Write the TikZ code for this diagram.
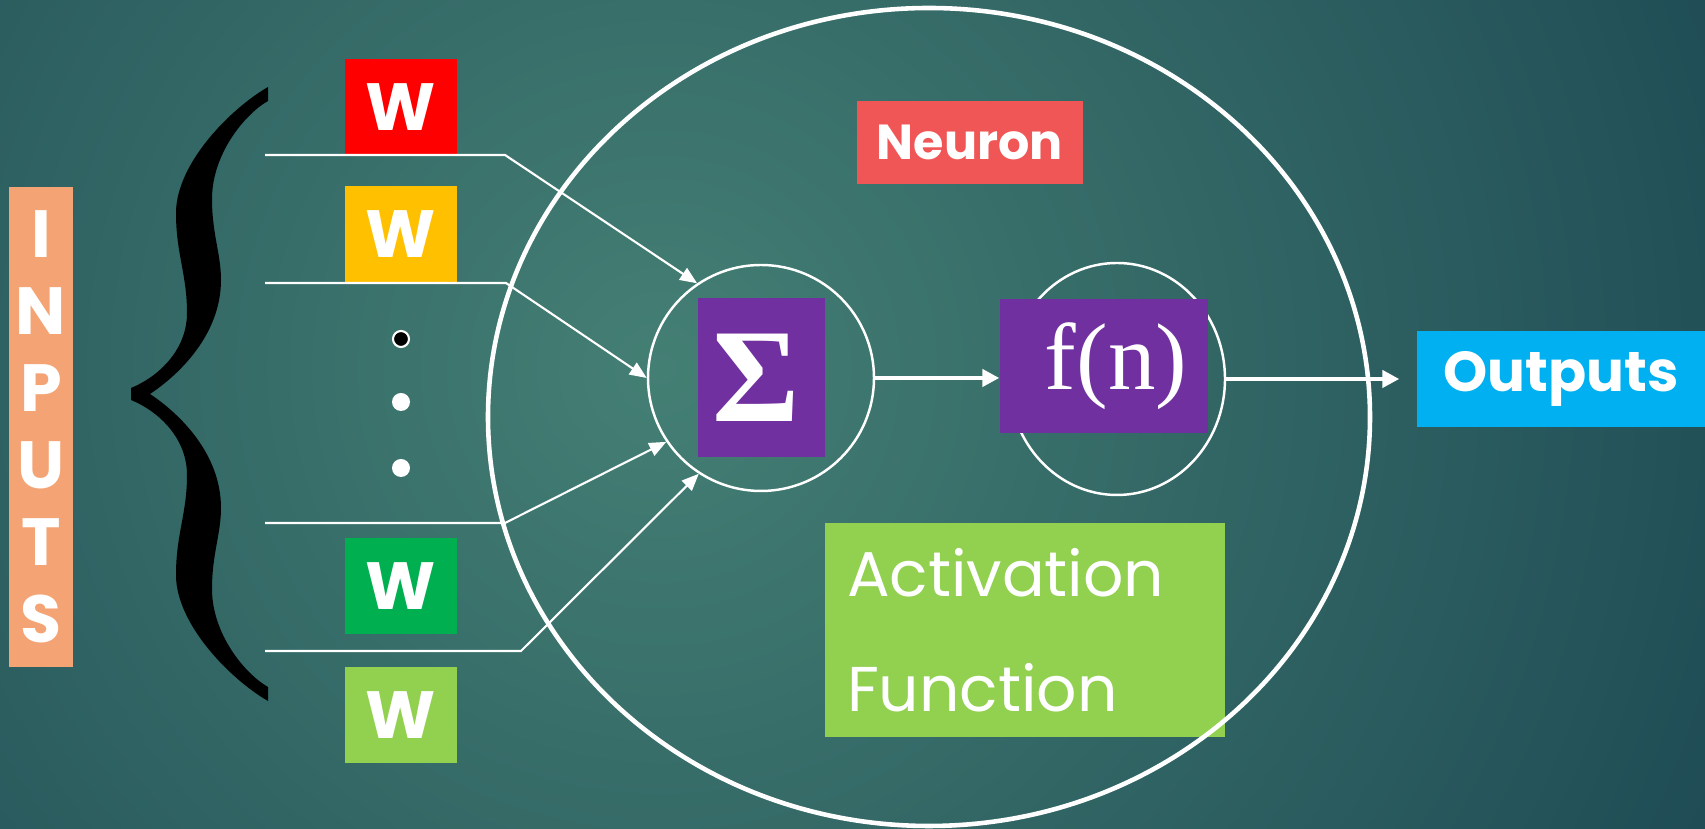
\documentclass[tikz,border=0pt]{standalone}
\usepackage{fontspec}
\setmainfont{Poppins}
\newfontfamily\timesfont{Liberation Serif}
\usetikzlibrary{positioning, arrows.meta, shapes.geometric, calc}
\definecolor{BgInner}{HTML}{447F74}
\definecolor{BgOuter}{HTML}{123A4A}
\definecolor{Salmon}{HTML}{F4A474}
\definecolor{WRed}{HTML}{FF0000}
\definecolor{WAmber}{HTML}{FFC000}
\definecolor{WGreen}{HTML}{00B050}
\definecolor{WLime}{HTML}{92D050}
\definecolor{Plum}{HTML}{7030A0}
\definecolor{Coral}{HTML}{F05656}
\definecolor{Sky}{HTML}{00B0F0}

\begin{document}
\begin{tikzpicture}[
    flatbox/.style={fill=#1, text=white, inner sep=0pt},
    wbox/.style={flatbox=#1, minimum width=1.12cm, minimum height=0.96cm,
        font=\fontsize{19}{22}\selectfont\bfseries},
    inline/.style={white, line width=0.6pt},
    thin arrow/.style={inline, -{Triangle[length=1.7mm, width=1.4mm]}},
    thick arrow/.style={white, line width=1.3pt, -{Triangle[length=1.7mm, width=1.7mm]}}
]
\useasboundingbox (0,0) rectangle (17.05,8.29);

% === Background ===
\begin{scope}
\clip (0,0) rectangle (17.05,8.29);
\shade[inner color=BgInner, outer color=BgOuter] (6.6,4.6) circle (15.5);
\end{scope}

% === Inputs ===
\node[flatbox=Salmon, minimum width=0.64cm, minimum height=4.8cm, align=center,
    font=\fontsize{19}{21.9}\selectfont\bfseries] (inputs) at (0.41,4.02) {I\\N\\P\\U\\T\\S};

% Curly brace (two mirrored halves)
\foreach \s in {1,-1} {
    \fill[black, yshift=4.35cm, yscale=\s] (1.31,0) -- (1.31,0.06)
        .. controls (1.60,0.18) and (1.87,0.45) .. (1.87,0.81)
        .. controls (1.87,1.20) and (1.76,1.40) .. (1.76,1.81)
        .. controls (1.76,2.30) and (2.30,2.85) .. (2.68,3.07)
        -- (2.68,2.93)
        .. controls (2.45,2.80) and (2.12,2.40) .. (2.12,1.95)
        .. controls (2.12,1.60) and (2.21,1.40) .. (2.21,1.14)
        .. controls (2.21,0.60) and (1.80,0.20) .. (1.50,0)
        -- cycle;
}

% Weights
\node[wbox=WRed] (w1) at (4.01,7.22) {W};
\node[wbox=WAmber] (w2) at (4.01,5.945) {W};
\node[wbox=WGreen] (w3) at (4.01,2.425) {W};
\node[wbox=WLime] (w4) at (4.01,1.14) {W};

% Dots
\filldraw[fill=black, draw=white, line width=0.6pt] (4.01,4.90) circle (0.08);
\fill[white] (4.01,4.27) circle (0.09);
\fill[white] (4.01,3.61) circle (0.09);

% === Neuron ===
\node[draw=white, line width=0.7pt, circle, minimum size=2.26cm, inner sep=0pt] (sum) at (7.61,4.51) {};
\node[flatbox=Plum, minimum width=1.27cm, minimum height=1.59cm,
    font=\timesfont\bfseries\fontsize{38}{38}\selectfont] (sumbox) at (7.61,4.51) {\hspace*{-0.1cm}\raisebox{-0.05cm}{Σ}};

\node[draw=white, line width=0.7pt, ellipse, minimum width=2.16cm, minimum height=2.32cm, inner sep=0pt] (fcirc) at (11.17,4.50) {};
\node[flatbox=Plum, minimum width=2.08cm, minimum height=1.34cm,
    font=\timesfont\fontsize{27}{27}\selectfont] (fbox) at (11.04,4.63) {\hspace*{0.24cm}\raisebox{-0.1cm}{f(n)}};

\node[flatbox=Coral, minimum width=2.26cm, minimum height=0.83cm,
    font=\fontsize{14}{17}\selectfont\bfseries] (neuron) at (9.70,6.865) {Neuron};

\node[flatbox=WLime, minimum width=4cm, minimum height=2.14cm, text width=3.56cm, align=left,
    font=\fontsize{18}{32.7}\selectfont] (act) at (10.25,1.99) {Activation\\Function};

\draw[white, line width=1.3pt] (9.29,4.12) ellipse [x radius=4.41, y radius=4.09];

% Input lines into the sum
\foreach \n/\y/\kx/\a in {1/6.74/5.05/124, 2/5.46/5.06/180, 3/3.06/5.05/214, 4/1.78/5.21/237} {
    \coordinate (in\n) at (2.65,\y);
    \coordinate (k\n) at (\kx,\y);
    \draw[thin arrow] (in\n) -- (k\n) -- (sum.\a);
}

% === Outputs ===
\node[flatbox=Sky, minimum width=2.88cm, minimum height=0.96cm,
    font=\fontsize{16}{19}\selectfont\bfseries] (outputs) at (15.61,4.50) {Outputs};

\draw[thick arrow] (sum.east) -- (sum.east -| fbox.west);
\draw[thick arrow, shorten >=0.17cm] (fcirc.east) -- (outputs.west);

\end{tikzpicture}
\end{document}
